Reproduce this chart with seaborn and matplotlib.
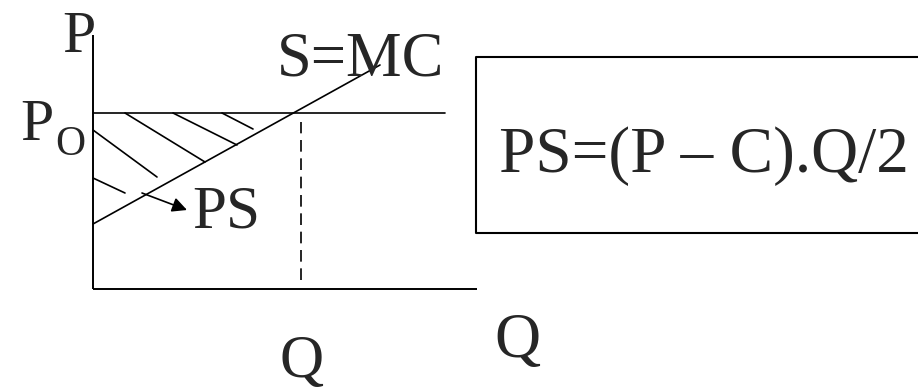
import matplotlib
matplotlib.use("Agg")
import matplotlib.pyplot as plt
import seaborn as sns
import pandas as pd

# ---- data (diagram units; origin at the axes corner) ----
axis_top = 254          # height of the P axis
axis_right = 384        # length of the Q axis
price_p0 = 176          # P0 level
price_line_end = 352
supply_q = [0, 287]     # S = MC
supply_p = [65, 224]
q_star = 208            # dashed quantity marker
q_star_p = [9, 167]
hatch_x0 = [32, 80, 129, 0, 0]
hatch_y0 = [176, 176, 176, 159, 111]
hatch_x1 = [112, 144, 160, 64, 32]
hatch_y1 = [127, 144, 160, 112, 96]
arrow_from = (49, 96)
arrow_to = (94, 79)
box_left, box_bottom, box_top = 383, 56, 232
formula = "PS=(P \u2013 C).Q/2"

sns.set_style("white")
plt.rcParams["font.family"] = ["Liberation Serif", "DejaVu Serif"]

fig = plt.figure(figsize=(9.18, 3.90), dpi=100)
ax = fig.add_axes([0, 0, 1, 1])
ax.set_xlim(-93, 825)
ax.set_ylim(-101, 289)
ax.axis("off")

k = "black"
# axes of the diagram
ax.plot([0, 0], [0, axis_top], color=k, lw=1.4, solid_capstyle="butt")
ax.plot([0, axis_right], [0, 0], color=k, lw=1.4, solid_capstyle="butt")
# P0 line
ax.plot([0, price_line_end], [price_p0, price_p0], color=k, lw=1.2)
# supply curve
sns.lineplot(x=supply_q, y=supply_p, ax=ax, color=k, lw=1.2, estimator=None)
# dashed Q
ax.plot([q_star, q_star], q_star_p, color=k, lw=1.2, linestyle=(0, (7, 4)))
# hatch lines
rows = []
for i, (a, b, c, d) in enumerate(zip(hatch_x0, hatch_y0, hatch_x1, hatch_y1)):
    rows.append({"u": i, "x": a, "y": b})
    rows.append({"u": i, "x": c, "y": d})
hdf = pd.DataFrame(rows)
sns.lineplot(data=hdf, x="x", y="y", units="u", estimator=None, ax=ax,
             color=k, lw=1.2, sort=False)
# arrow to PS
ax.annotate("", xy=arrow_to, xytext=arrow_from,
            arrowprops=dict(arrowstyle="-|>", color=k, lw=1.2,
                            mutation_scale=22, shrinkA=0, shrinkB=0))
# box
ax.plot([box_left + 800, box_left, box_left, box_left + 800],
        [box_top, box_top, box_bottom, box_bottom], color=k, lw=1.5)

# labels
ax.text(-31, 237, "P", fontsize=43, ha="left", va="baseline")
ax.text(-73, 149, "P", fontsize=43, ha="left", va="baseline")
ax.text(-38, 134, "O", fontsize=30, ha="left", va="baseline")
ax.text(184, 214, "S=MC", fontsize=45, ha="left", va="baseline")
ax.text(99, 61, "PS", fontsize=44, ha="left", va="baseline")
ax.text(186, -88, "Q", fontsize=44, ha="left", va="baseline")
ax.text(401, -68, "Q", fontsize=46, ha="left", va="baseline")
ax.text(406, 117, formula, fontsize=47, ha="left", va="baseline")

fig.savefig("out.png", dpi=100, facecolor="white")
